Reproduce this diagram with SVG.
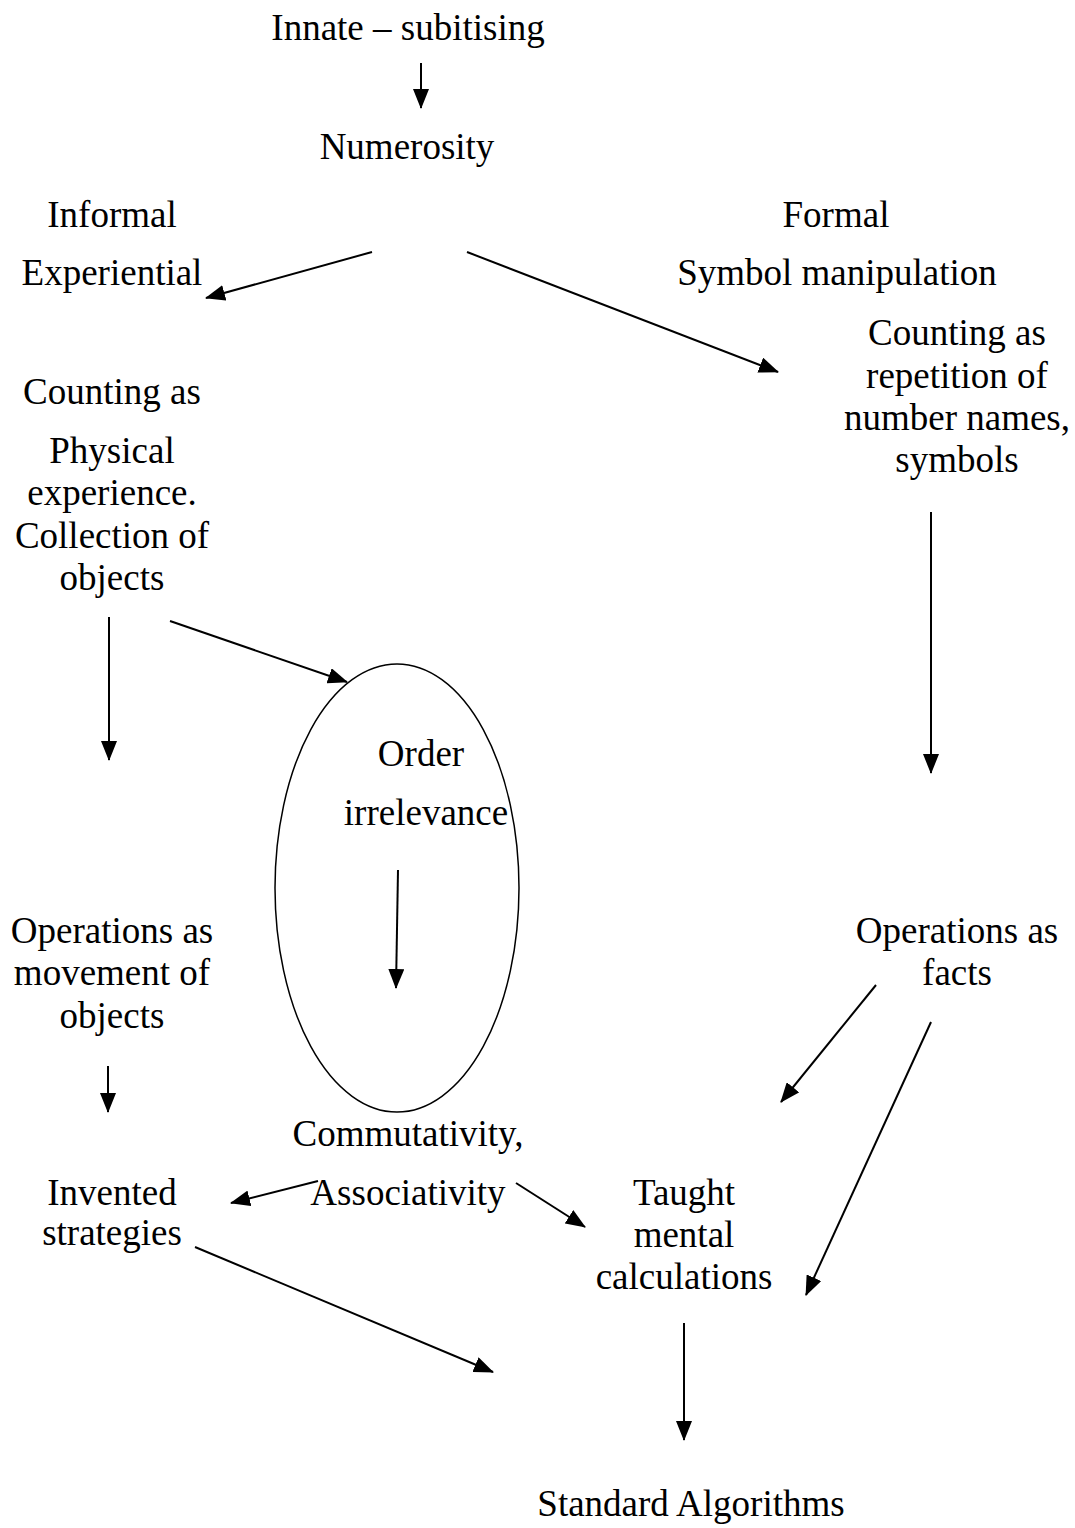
<svg xmlns="http://www.w3.org/2000/svg" width="1075" height="1528" viewBox="0 0 1075 1528">
<style>
text{font-family:"Liberation Serif","Times New Roman",serif;font-size:37px;fill:#000;text-anchor:middle}
.c{stroke:#000;stroke-width:2;fill:none;marker-end:url(#ah)}
</style>
<defs>
<marker id="ah" markerUnits="userSpaceOnUse" markerWidth="20" markerHeight="16" refX="19" refY="8" orient="auto">
<path d="M0,0 L20,8 L0,16 z" fill="#000"/>
</marker>
</defs>
<rect width="1075" height="1528" fill="#fff"/>
<g id="innate"><text x="408" y="40">Innate – subitising</text></g>
<g id="numerosity"><text x="407" y="159">Numerosity</text></g>
<g id="informal"><text x="112" y="227">Informal</text><text x="112" y="285">Experiential</text></g>
<g id="formal"><text x="836" y="227">Formal</text><text x="837" y="285">Symbol manipulation</text></g>
<g id="counting-right"><text x="957" y="345">Counting as</text><text x="957" y="388">repetition of</text><text x="957" y="430">number names,</text><text x="957" y="472">symbols</text></g>
<g id="counting-left"><text x="112" y="404">Counting as</text><text x="112" y="463">Physical</text><text x="112" y="505">experience.</text><text x="112" y="548">Collection of</text><text x="112" y="590">objects</text></g>
<g id="order"><ellipse cx="397" cy="888" rx="122" ry="224" fill="none" stroke="#000" stroke-width="1.5"/><text x="421" y="766">Order</text><text x="426" y="825">irrelevance</text></g>
<g id="ops-left"><text x="112" y="943">Operations as</text><text x="112" y="985">movement of</text><text x="112" y="1028">objects</text></g>
<g id="ops-right"><text x="957" y="943">Operations as</text><text x="957" y="985">facts</text></g>
<g id="commutativity"><text x="408" y="1146">Commutativity,</text><text x="408" y="1205">Associativity</text></g>
<g id="invented"><text x="112" y="1205">Invented</text><text x="112" y="1245">strategies</text></g>
<g id="taught"><text x="684" y="1205">Taught</text><text x="684" y="1247">mental</text><text x="684" y="1289">calculations</text></g>
<g id="standard"><text x="691" y="1516">Standard Algorithms</text></g>
<g id="connectors">
<line class="c" x1="421" y1="63" x2="421" y2="108"/>
<line class="c" x1="372" y1="252" x2="206" y2="298"/>
<line class="c" x1="467" y1="252" x2="778" y2="372"/>
<line class="c" x1="109" y1="617" x2="109" y2="760"/>
<line class="c" x1="170" y1="621" x2="347" y2="682"/>
<line class="c" x1="931" y1="512" x2="931" y2="773"/>
<line class="c" x1="398" y1="870" x2="396" y2="988"/>
<line class="c" x1="108" y1="1066" x2="108" y2="1112"/>
<line class="c" x1="318" y1="1181" x2="231" y2="1203"/>
<line class="c" x1="516" y1="1183" x2="585" y2="1227"/>
<line class="c" x1="876" y1="985" x2="781" y2="1102"/>
<line class="c" x1="931" y1="1022" x2="806" y2="1295"/>
<line class="c" x1="195" y1="1247" x2="493" y2="1372"/>
<line class="c" x1="684" y1="1323" x2="684" y2="1440"/>
</g>
</svg>
